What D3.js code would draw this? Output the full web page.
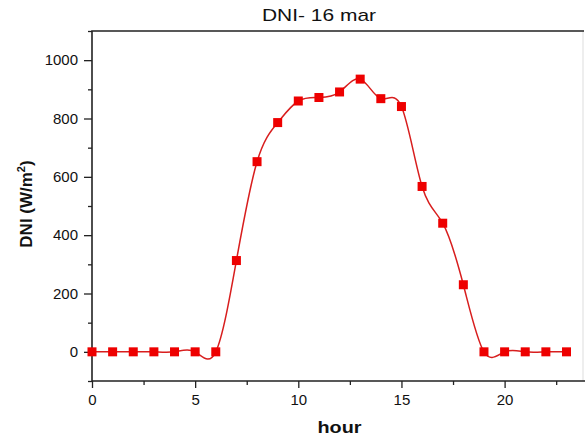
<!DOCTYPE html>
<html><head><meta charset="utf-8">
<script src="https://cdn.jsdelivr.net/npm/d3@7/dist/d3.min.js"></script>
<style>body{margin:0;background:#fff}svg{display:block;font-family:"Liberation Sans",Arial,sans-serif}</style>
</head><body>
<script>
const hours = [0,1,2,3,4,5,6,7,8,9,10,11,12,13,14,15,16,17,18,19,20,21,22,23];
const dni   = [0,0,0,0,0,0,0,313,652,786,860,872,891,935,868,841,567,441,230,0,0,0,0,0];
const xTicks = [0,5,10,15,20];
const yTicks = [0,200,400,600,800,1000];
const title = "DNI- 16 mar";

const W=585,H=439;
const m={l:92,r:2,t:31,b:58};
const svg=d3.select("body").append("svg").attr("width",W).attr("height",H);
const x=d3.scaleLinear().domain([0,23.8]).range([m.l,W-m.r]);
const y=d3.scaleLinear().domain([-100,1100]).range([H-m.b,m.t]);

svg.append("text").attr("x",319).attr("y",21).attr("text-anchor","middle")
  .attr("font-size",17).attr("fill","#111").attr("textLength",114).attr("lengthAdjust","spacingAndGlyphs").text(title);

// frame
svg.append("line").attr("x1",W-m.r).attr("x2",W-m.r).attr("y1",m.t).attr("y2",H-m.b).attr("stroke","#ddd").attr("stroke-width",1);
svg.append("path").attr("d",`M${W-m.r+1},${m.t}H${m.l}V${H-m.b}H${W}`)
  .attr("fill","none").attr("stroke","#222").attr("stroke-width",1.6);

const gx=svg.append("g").attr("transform",`translate(0,${H-m.b})`);
gx.call(d3.axisBottom(x).tickValues(d3.range(2.5,24,5)).tickSize(4).tickFormat(""));
gx.call(g=>g.selectAll(".domain").remove());
const gx2=svg.append("g").attr("transform",`translate(0,${H-m.b})`)
  .call(d3.axisBottom(x).tickValues(xTicks).tickSize(7).tickPadding(6).tickFormat(d3.format("d")));
gx2.select(".domain").remove();
[gx,gx2].forEach(g=>g.selectAll("line").attr("stroke","#222").attr("stroke-width",1.3));
gx2.selectAll("text").attr("font-size",15).attr("fill","#111").attr("font-family","Liberation Sans, Arial, sans-serif");

const gy=svg.append("g").attr("transform",`translate(${m.l},0)`)
  .call(d3.axisLeft(y).tickValues(d3.range(-100,1101,200)).tickSize(4).tickFormat(""));
gy.select(".domain").remove();
const gy2=svg.append("g").attr("transform",`translate(${m.l},0)`)
  .call(d3.axisLeft(y).tickValues(yTicks).tickSize(8).tickPadding(6).tickFormat(d3.format("d")));
gy2.select(".domain").remove();
[gy,gy2].forEach(g=>g.selectAll("line").attr("stroke","#222").attr("stroke-width",1.3));
gy2.selectAll("text").attr("font-size",15).attr("fill","#111").attr("font-family","Liberation Sans, Arial, sans-serif");

// axis labels
svg.append("text").attr("x",339.5).attr("y",433).attr("text-anchor","middle")
  .attr("font-size",17).attr("font-weight","bold").attr("fill","#111")
  .attr("textLength",44).attr("lengthAdjust","spacingAndGlyphs").text("hour");
const yl=svg.append("text").attr("transform","translate(31.5,204) rotate(-90)").attr("text-anchor","middle")
  .attr("font-size",17).attr("font-weight","bold").attr("fill","#111");
yl.append("tspan").text("DNI (W/m");
yl.append("tspan").attr("font-size",11).attr("dy",-7).text("2");
yl.append("tspan").attr("dy",7).text(")");

const pts=hours.map((h,i)=>[h,dni[i]]);
svg.append("path").datum(pts).attr("fill","none").attr("stroke","#d81e1e").attr("stroke-width",1.5)
  .attr("d",d3.line().x(d=>x(d[0])).y(d=>y(d[1])).curve(d3.curveNatural));
const s=9;
svg.append("g").selectAll("rect").data(pts).join("rect")
  .attr("x",d=>x(d[0])-s/2).attr("y",d=>y(d[1])-s/2).attr("width",s).attr("height",s)
  .attr("fill","#ee0000");
</script>
</body></html>
